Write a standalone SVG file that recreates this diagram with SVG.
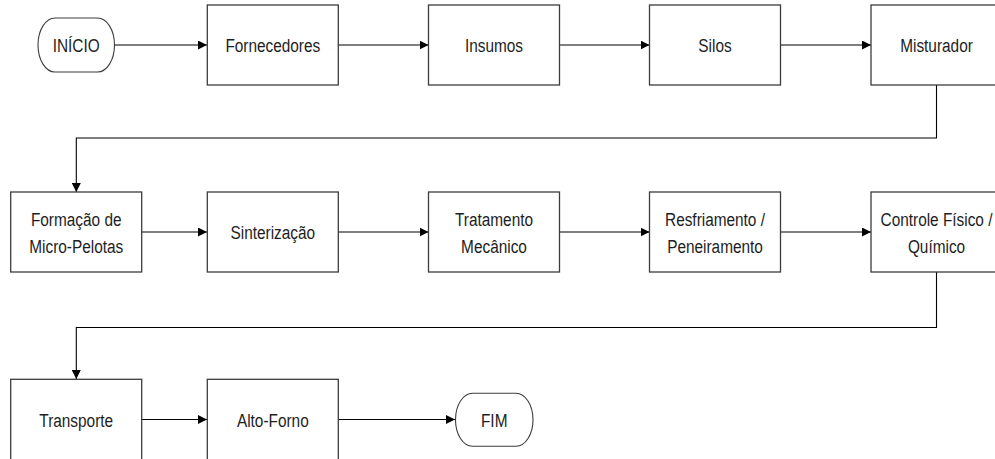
<svg xmlns="http://www.w3.org/2000/svg" width="995" height="459" viewBox="0 0 995 459">
  <defs>
    <marker id="arrow" viewBox="0 0 9 9" refX="9" refY="4.5" markerWidth="9" markerHeight="9" markerUnits="userSpaceOnUse" orient="auto">
      <path d="M0,0 L9,4.5 L0,9 Z" fill="#000"/>
    </marker>
  </defs>
  <style>
    .box { fill: #fff; stroke: #3c3c3c; stroke-width: 1.3; }
    .term { fill: #fff; stroke: #3c3c3c; stroke-width: 1.1; }
    .lbl { font-family: "Liberation Sans", Arial, sans-serif; font-size: 19px; fill: #1e1e1e; text-anchor: middle; }
    .conn { fill: none; stroke: #000; stroke-width: 1.1; marker-end: url(#arrow); }
  </style>
  <rect width="995" height="459" fill="#fff"/>

  <!-- connectors -->
  <g id="connectors">
    <line class="conn" x1="114.5" y1="45" x2="207" y2="45"/>
    <line class="conn" x1="338" y1="45" x2="428.5" y2="45"/>
    <line class="conn" x1="559.5" y1="45" x2="649.5" y2="45"/>
    <line class="conn" x1="780.5" y1="45" x2="871" y2="45"/>
    <polyline class="conn" points="936.5,85 936.5,138 76.3,138 76.3,192"/>
    <line class="conn" x1="142" y1="232" x2="207" y2="232"/>
    <line class="conn" x1="338" y1="232" x2="428.5" y2="232"/>
    <line class="conn" x1="559.5" y1="232" x2="649.5" y2="232"/>
    <line class="conn" x1="780.5" y1="232" x2="871" y2="232"/>
    <polyline class="conn" points="936.5,272 936.5,327.5 76.3,327.5 76.3,379"/>
    <line class="conn" x1="142" y1="419.5" x2="207" y2="419.5"/>
    <line class="conn" x1="338" y1="419.5" x2="455" y2="419.5"/>
  </g>

  <!-- row 1 -->
  <g id="inicio">
    <rect class="term" x="38" y="18" width="76.5" height="54" rx="17" ry="27"/>
    <text class="lbl" transform="translate(76.2,52) scale(0.81,1)">INÍCIO</text>
  </g>
  <g id="fornecedores">
    <rect class="box" x="207.3" y="5" width="131" height="80"/>
    <text class="lbl" transform="translate(272.8,52) scale(0.81,1)">Fornecedores</text>
  </g>
  <g id="insumos">
    <rect class="box" x="428.5" y="5" width="131" height="80"/>
    <text class="lbl" transform="translate(494,52) scale(0.81,1)">Insumos</text>
  </g>
  <g id="silos">
    <rect class="box" x="649.5" y="5" width="131" height="80"/>
    <text class="lbl" transform="translate(715,52) scale(0.81,1)">Silos</text>
  </g>
  <g id="misturador">
    <rect class="box" x="871" y="5" width="131" height="80"/>
    <text class="lbl" transform="translate(936.5,52) scale(0.81,1)">Misturador</text>
  </g>

  <!-- row 2 -->
  <g id="formacao">
    <rect class="box" x="10.7" y="192" width="131" height="80"/>
    <text class="lbl" transform="translate(76.2,226) scale(0.81,1)"><tspan x="0">Formação de</tspan><tspan x="0" dy="27">Micro-Pelotas</tspan></text>
  </g>
  <g id="sinterizacao">
    <rect class="box" x="207.3" y="192" width="131" height="80"/>
    <text class="lbl" transform="translate(272.8,239) scale(0.81,1)">Sinterização</text>
  </g>
  <g id="tratamento">
    <rect class="box" x="428.5" y="192" width="131" height="80"/>
    <text class="lbl" transform="translate(494,226) scale(0.81,1)"><tspan x="0">Tratamento</tspan><tspan x="0" dy="27">Mecânico</tspan></text>
  </g>
  <g id="resfriamento">
    <rect class="box" x="649.5" y="192" width="131" height="80"/>
    <text class="lbl" transform="translate(715,226) scale(0.81,1)"><tspan x="0">Resfriamento /</tspan><tspan x="0" dy="27">Peneiramento</tspan></text>
  </g>
  <g id="controle">
    <rect class="box" x="871" y="192" width="131" height="80"/>
    <text class="lbl" transform="translate(936.5,226) scale(0.81,1)"><tspan x="0">Controle Físico /</tspan><tspan x="0" dy="27">Químico</tspan></text>
  </g>

  <!-- row 3 -->
  <g id="transporte">
    <rect class="box" x="10.7" y="379.3" width="131" height="82"/>
    <text class="lbl" transform="translate(76.2,426.5) scale(0.81,1)">Transporte</text>
  </g>
  <g id="alto-forno">
    <rect class="box" x="207.3" y="379.3" width="131" height="82"/>
    <text class="lbl" transform="translate(272.8,426.5) scale(0.81,1)">Alto-Forno</text>
  </g>
  <g id="fim">
    <rect class="term" x="455.5" y="393.3" width="77.5" height="53" rx="17" ry="26.5"/>
    <text class="lbl" transform="translate(494.2,426.5) scale(0.81,1)">FIM</text>
  </g>
</svg>
